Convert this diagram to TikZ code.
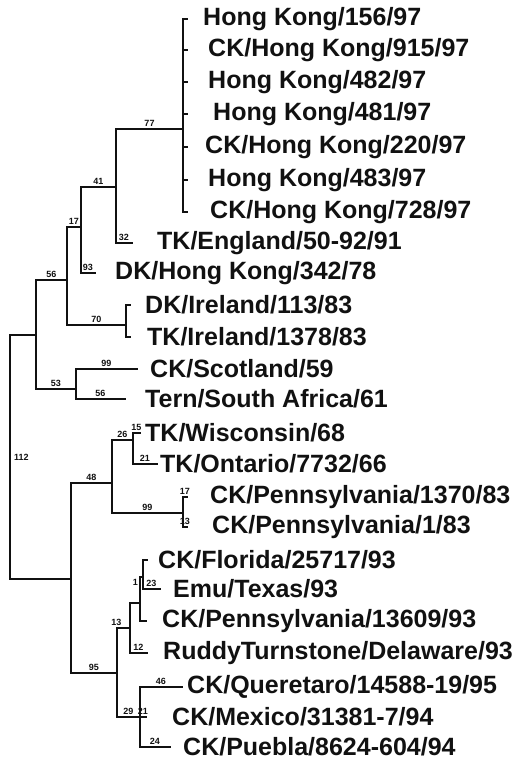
\documentclass[tikz,border=0pt]{standalone}
\usepackage{fontspec}
\setmainfont{Liberation Sans}
\usepackage{tikz}
\usetikzlibrary{positioning,calc}
\definecolor{ink}{HTML}{111111}
\tikzset{
  taxon/.style={anchor=west,inner sep=0pt,text=ink,
                font=\fontsize{25}{25}\selectfont\bfseries},
  boot/.style={inner sep=0.8pt,text=ink,
               font=\fontsize{9}{9}\selectfont\bfseries},
  branch/.style={draw=ink,line width=2.8pt,line cap=rect,line join=miter}
}

\begin{document}
\begin{tikzpicture}[x=1pt,y=-1pt]
  \useasboundingbox (0,0) rectangle (527,764);

  % Internal nodes (x = depth, y = where the parent joins)
  \coordinate (root) at (10,457);
  \coordinate (nA) at (36,335);
  \coordinate (nB) at (67,280);
  \coordinate (nC) at (81,227);
  \coordinate (nD) at (116,187);
  \coordinate (nE) at (183,129);
  \coordinate (nF) at (126,325);
  \coordinate (nG) at (76,389);
  \coordinate (nH) at (71,579);
  \coordinate (nI) at (112,483);
  \coordinate (nJ) at (133,440);
  \coordinate (nK) at (183,513);
  \coordinate (nL) at (117,673);
  \coordinate (nM) at (130,628);
  \coordinate (nN) at (140,603);
  \coordinate (nO) at (143,577);
  \coordinate (nP) at (140,717);

  % Leaf tips
  \coordinate (tHKa) at (187,19);
  \coordinate (tHKb) at (187,50);
  \coordinate (tHKc) at (187,82);
  \coordinate (tHKd) at (187,114);
  \coordinate (tHKe) at (187,147);
  \coordinate (tHKf) at (187,180);
  \coordinate (tHKg) at (187,212);
  \coordinate (tEng) at (132,243);
  \coordinate (tDKHK) at (95,273);
  \coordinate (tDKIr) at (130,305);
  \coordinate (tTKIr) at (130,337);
  \coordinate (tScot) at (137,369);
  \coordinate (tTern) at (125,399);
  \coordinate (tWis) at (140,433);
  \coordinate (tOnt) at (157,464);
  \coordinate (tPaA) at (187,497);
  \coordinate (tPaB) at (187,527);
  \coordinate (tFla) at (147,560);
  \coordinate (tEmu) at (160,589);
  \coordinate (tPaC) at (146,621);
  \coordinate (tRud) at (147,653);
  \coordinate (tQue) at (182,687);
  \coordinate (tMex) at (146,717);
  \coordinate (tPue) at (170,747);

  % Taxon names
  \node[taxon] (HKa) at (203,19) {Hong Kong/156/97};
  \node[taxon] (HKb) at (208,50) {CK/Hong Kong/915/97};
  \node[taxon] (HKc) at (208,82) {Hong Kong/482/97};
  \node[taxon] (HKd) at (213,114) {Hong Kong/481/97};
  \node[taxon] (HKe) at (205,147) {CK/Hong Kong/220/97};
  \node[taxon] (HKf) at (208,180) {Hong Kong/483/97};
  \node[taxon] (HKg) at (210,212) {CK/Hong Kong/728/97};
  \node[taxon] (Eng) at (157,243) {TK/England/50-92/91};
  \node[taxon] (DKHK) at (115,273) {DK/Hong Kong/342/78};
  \node[taxon] (DKIr) at (145,305) {DK/Ireland/113/83};
  \node[taxon] (TKIr) at (147,337) {TK/Ireland/1378/83};
  \node[taxon] (Scot) at (150,369) {CK/Scotland/59};
  \node[taxon] (Tern) at (145,399) {Tern/South Africa/61};
  \node[taxon] (Wis) at (145,433) {TK/Wisconsin/68};
  \node[taxon] (Ont) at (160,464) {TK/Ontario/7732/66};
  \node[taxon] (PaA) at (210,497) {CK/Pennsylvania/1370/83};
  \node[taxon] (PaB) at (212,527) {CK/Pennsylvania/1/83};
  \node[taxon] (Fla) at (158,560) {CK/Florida/25717/93};
  \node[taxon] (Emu) at (173,589) {Emu/Texas/93};
  \node[taxon] (PaC) at (162,621) {CK/Pennsylvania/13609/93};
  \node[taxon] (Rud) at (163,653) {RuddyTurnstone/Delaware/93};
  \node[taxon] (Que) at (187,687) {CK/Queretaro/14588-19/95};
  \node[taxon] (Mex) at (172,717) {CK/Mexico/31381-7/94};
  \node[taxon] (Pue) at (183,747) {CK/Puebla/8624-604/94};

  % Root
  \node[boot,anchor=west] (b112) at ($(root)+(3,0)$) {112};
  \draw[branch] (root) |- (nA);
  \draw[branch] (root) |- (nH);

  % Upper clade
  \draw[branch] (nA) |- (nB) node[boot,pos=.75,above] (b56) {56};
  \draw[branch] (nA) |- (nG) node[boot,pos=.75,above] (b53) {53};
  \draw[branch] (nB) |- (nC) node[boot,pos=.75,above] (b17) {17};
  \draw[branch] (nB) |- (nF) node[boot,pos=.75,above] (b70) {70};
  \draw[branch] (nC) |- (nD) node[boot,pos=.75,above] (b41) {41};
  \draw[branch] (nC) |- (tDKHK) node[boot,pos=.75,above] (b93) {93};
  \draw[branch] (nD) |- (nE) node[boot,pos=.75,above] (b77) {77};
  \draw[branch] (nD) |- (tEng) node[boot,pos=.75,above] (b32) {32};
  \foreach \t in {tHKa,tHKb,tHKc,tHKd,tHKe,tHKf,tHKg}
    \draw[branch] (nE) |- (\t);
  \draw[branch] (nF) |- (tDKIr);
  \draw[branch] (nF) |- (tTKIr);
  \draw[branch] (nG) |- (tScot) node[boot,pos=.75,above] (b99a) {99};
  \draw[branch] (nG) |- (tTern) node[boot,pos=.75,above] (b56b) {56};

  % Lower clade
  \draw[branch] (nH) |- (nI) node[boot,pos=.75,above] (b48) {48};
  \draw[branch] (nH) |- (nL) node[boot,pos=.75,above] (b95) {95};
  \draw[branch] (nI) |- (nJ) node[boot,pos=.75,above] (b26) {26};
  \draw[branch] (nI) |- (nK) node[boot,pos=.75,above] (b99b) {99};
  \draw[branch] (nJ) |- (tWis) node[boot,pos=.75,above] (b15) {15};
  \draw[branch] (nJ) |- (tOnt) node[boot,pos=.75,above] (b21a) {21};
  \draw[branch] (nK) |- (tPaA) node[boot,pos=.75,above] (b17b) {17};
  \draw[branch] (nK) |- (tPaB) node[boot,pos=.75,above] (b13a) {13};
  \draw[branch] (nL) |- (nM) node[boot,pos=.75,above left] (b13b) {13};
  \draw[branch] (nL) |- (nP) node[boot,pos=.75,above] (b29) {29};
  \draw[branch] (nM) |- (nN);
  \draw[branch] (nM) |- (tRud) node[boot,pos=.75,above] (b12) {12};
  \draw[branch] (nN) |- (nO) node[boot,pos=.4,left] (b1) {1};
  \draw[branch] (nN) |- (tPaC);
  \draw[branch] (nO) |- (tFla);
  \draw[branch] (nO) |- (tEmu) node[boot,pos=.75,above] (b23) {23};
  \draw[branch] (nP) |- (tQue) node[boot,pos=.75,above] (b46) {46};
  \draw[branch] (nP) |- (tMex) node[boot,pos=.75,above] (b21b) {21};
  \draw[branch] (nP) |- (tPue) node[boot,pos=.75,above] (b24) {24};
\end{tikzpicture}
\end{document}
